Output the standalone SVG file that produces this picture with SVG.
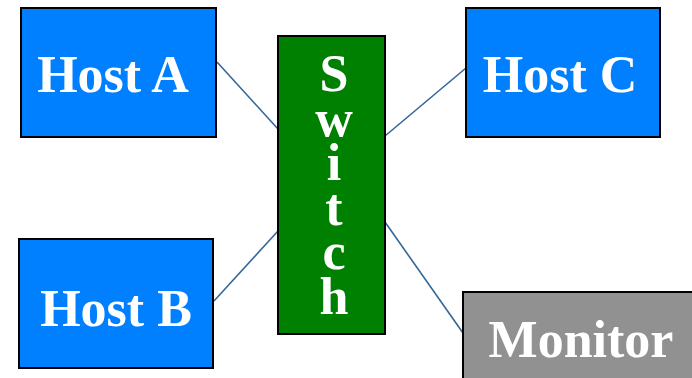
<svg xmlns="http://www.w3.org/2000/svg" width="692" height="378" viewBox="0 0 692 378">
  <style>
    .box { stroke: #000; stroke-width: 2; }
    .host { fill: #0080ff; }
    .switch { fill: #008000; }
    .monitor { fill: #919191; }
    .label { font-family: "Liberation Serif", "Times New Roman", serif; font-weight: bold; font-size: 52px; fill: #fff; text-anchor: middle; }
    .vertical { text-anchor: start; writing-mode: vertical-rl; text-orientation: upright; letter-spacing: -12.5px; }
    .link { stroke: #336699; stroke-width: 1.6; fill: none; }
  </style>
  <rect width="692" height="378" fill="#fff"/>

  <g id="connectors">
    <line class="link" x1="217" y1="62" x2="278" y2="129"/>
    <line class="link" x1="214" y1="301" x2="278" y2="231"/>
    <line class="link" x1="385" y1="136" x2="466" y2="68"/>
    <line class="link" x1="385" y1="222" x2="463" y2="333"/>
  </g>

  <g id="host-a">
    <rect class="box host" x="21" y="8" width="195" height="129"/>
    <text class="label" x="113" y="92">Host A</text>
  </g>

  <g id="host-b">
    <rect class="box host" x="19" y="239" width="194" height="129"/>
    <text class="label" x="116" y="326">Host B</text>
  </g>

  <g id="host-c">
    <rect class="box host" x="466" y="8" width="194" height="129"/>
    <text class="label" x="560" y="92">Host C</text>
  </g>

  <g id="switch">
    <rect class="box switch" x="278" y="36" width="107" height="298"/>
    <!-- vertical label, letters stacked upright -->
    <text class="label vertical" x="334" y="45">Switch</text>
  </g>

  <g id="monitor">
    <rect class="box monitor" x="463" y="292" width="240" height="100"/>
    <text class="label" x="581" y="357">Monitor</text>
  </g>
</svg>
